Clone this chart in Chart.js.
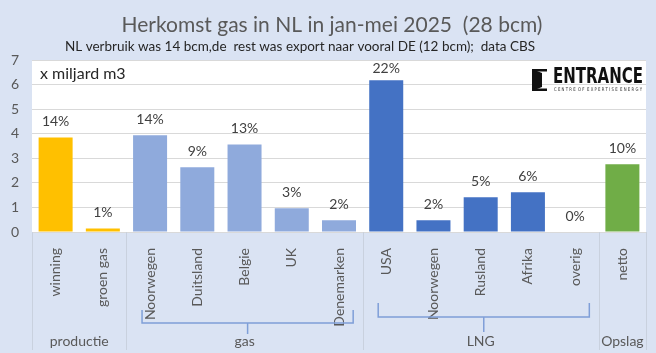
<!DOCTYPE html>
<html>
<head>
<meta charset="utf-8">
<script src="https://cdn.jsdelivr.net/npm/chart.js@4"></script>
<style>
  html, body { margin: 0; padding: 0; background: #dae3f3; }
  #wrap { width: 656px; height: 353px; }
</style>
</head>
<body>
<div id="wrap"><canvas id="chart" width="656" height="353"></canvas></div>
<script>
const categories = ["winning", "groen gas", "Noorwegen", "Duitsland", "Belgie", "UK", "Denemarken",
  "USA", "Noorwegen", "Rusland", "Afrika", "overig", "netto"];
const values = [3.85, 0.14, 3.94, 2.64, 3.56, 0.97, 0.48, 6.18, 0.48, 1.41, 1.62, 0, 2.76];
const shares = ["14%", "1%", "14%", "9%", "13%", "3%", "2%", "22%", "2%", "5%", "6%", "0%", "10%"];
const groupNames = ["productie", "gas", "LNG", "Opslag"];
const groupSizes = [2, 5, 5, 1];
const groupColors = ["#ffc000", "#8faadc", "#4472c4", "#70ad47"];
const yTicks = [0, 1, 2, 3, 4, 5, 6, 7];

const FONT = "Lato, 'Open Sans', sans-serif";
const TEXT = "#595959";

const barColors = [];
groupSizes.forEach((n, g) => {
  for (let i = 0; i < n; i++) barColors.push(groupColors[g]);
});

// draw text squeezed into a given width
function fitText(ctx, text, x, y, width) {
  const w = ctx.measureText(text).width;
  ctx.save();
  ctx.translate(x, y);
  ctx.scale(width / w, 1);
  ctx.fillText(text, 0, 0);
  ctx.restore();
}

const decorPlugin = {
  id: "decor",
  beforeDraw(chart) {
    const { ctx, chartArea } = chart;
    ctx.save();
    ctx.fillStyle = "#dae3f3";
    ctx.fillRect(0, 0, chart.width, chart.height);
    ctx.fillStyle = "#ffffff";
    ctx.fillRect(chartArea.left, chartArea.top, chartArea.right - chartArea.left, chartArea.bottom - chartArea.top);
    ctx.restore();
  },
  afterDraw(chart) {
    const { ctx, chartArea } = chart;
    const x = chart.scales.x;
    const slot = x.getPixelForValue(1) - x.getPixelForValue(0);
    ctx.save();

    // titles
    ctx.fillStyle = TEXT;
    ctx.textBaseline = "middle";
    ctx.textAlign = "center";
    ctx.font = "21px " + FONT;
    ctx.fillText("Herkomst gas in NL in jan-mei 2025  (28 bcm)", 332, 25);
    ctx.fillStyle = "#262626";
    ctx.font = "13.5px " + FONT;
    ctx.fillText("NL verbruik was 14 bcm,de  rest was export naar vooral DE (12 bcm);  data CBS", 300, 47);

    // unit label
    ctx.textAlign = "left";
    ctx.font = "16px " + FONT;
    ctx.fillText("x miljard m3", 40, 74);

    // value labels
    const meta = chart.getDatasetMeta(0);
    ctx.fillStyle = "#404040";
    ctx.textAlign = "center";
    ctx.font = "14px " + FONT;
    meta.data.forEach((bar, i) => {
      const yy = Math.max(bar.y - 16, chartArea.top + 8);
      ctx.fillText(shares[i], bar.x, yy);
    });

    // group separators and names
    ctx.strokeStyle = "#c9d1de";
    ctx.lineWidth = 1;
    let start = 0;
    const bounds = [x.getPixelForValue(0) - slot / 2];
    groupSizes.forEach((n) => {
      start += n;
      bounds.push(x.getPixelForValue(start - 1) + slot / 2);
    });
    bounds.forEach((b) => {
      ctx.beginPath();
      ctx.moveTo(Math.round(b) + 0.5, chartArea.bottom);
      ctx.lineTo(Math.round(b) + 0.5, chart.height - 3);
      ctx.stroke();
    });
    ctx.fillStyle = TEXT;
    ctx.font = "14px " + FONT;
    groupNames.forEach((name, g) => {
      ctx.fillText(name, (bounds[g] + bounds[g + 1]) / 2, 341);
    });

    // brackets for gas and LNG
    ctx.strokeStyle = "#7f9fd8";
    ctx.lineWidth = 1.5;
    const bracket = (i0, i1, top, mid, bottom) => {
      const l = x.getPixelForValue(i0) - slot * 0.17;
      const r = x.getPixelForValue(i1) + slot * 0.3;
      ctx.beginPath();
      ctx.moveTo(l, top);
      ctx.lineTo(l, mid);
      ctx.lineTo(r, mid);
      ctx.lineTo(r, top);
      ctx.moveTo((l + r) / 2, mid);
      ctx.lineTo((l + r) / 2, bottom);
      ctx.stroke();
    };
    bracket(2, 6, 310, 323, 334);
    bracket(7, 11, 303, 317, 332);

    // logo
    ctx.fillStyle = "#111111";
    ctx.fillRect(532, 69, 5, 22);
    ctx.fillRect(532, 69, 15, 2.5);
    ctx.fillRect(532, 88.5, 15, 2.5);
    ctx.beginPath();
    ctx.moveTo(537, 71);
    ctx.lineTo(542, 73);
    ctx.lineTo(542, 87);
    ctx.lineTo(537, 89);
    ctx.closePath();
    ctx.fill();
    ctx.textAlign = "left";
    ctx.font = "bold 21px 'DejaVu Sans', sans-serif";
    fitText(ctx, "ENTRANCE", 553, 77.5, 90);
    ctx.fillStyle = "#333333";
    ctx.font = "5px 'DejaVu Sans', sans-serif";
    fitText(ctx, "C E N T R E  O F  E X P E R T I S E  E N E R G Y", 554, 89.5, 88);
    ctx.restore();
  }
};

new Chart(document.getElementById("chart"), {
  type: "bar",
  data: {
    labels: categories,
    datasets: [{
      data: values,
      backgroundColor: barColors,
      borderWidth: 0,
      barPercentage: 0.72,
      categoryPercentage: 1
    }]
  },
  options: {
    responsive: false,
    animation: false,
    layout: { padding: { top: 60, right: 10, bottom: 0, left: 0 } },
    plugins: {
      legend: { display: false },
      tooltip: { enabled: false }
    },
    scales: {
      x: {
        grid: { display: false },
        border: { display: false },
        afterFit(scale) { scale.height = 121; },
        ticks: {
          autoSkip: false,
          minRotation: 90,
          maxRotation: 90,
          padding: 8,
          color: TEXT,
          font: { family: FONT, size: 14 }
        }
      },
      y: {
        min: 0,
        max: 7,
        afterFit(scale) { scale.width = 32; },
        afterBuildTicks(scale) { scale.ticks = yTicks.map((v) => ({ value: v })); },
        grid: { color: "#d9d9d9", drawTicks: false },
        border: { display: false },
        ticks: {
          padding: 13,
          color: TEXT,
          font: { family: FONT, size: 14 }
        }
      }
    }
  },
  plugins: [decorPlugin]
});
</script>
</body>
</html>
